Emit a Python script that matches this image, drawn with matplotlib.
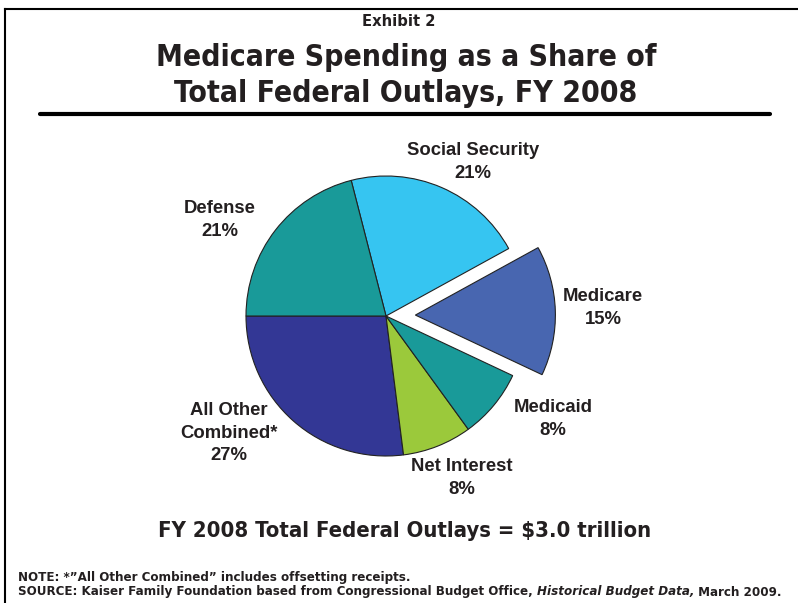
import matplotlib
matplotlib.use("Agg")
import matplotlib.pyplot as plt
from matplotlib import font_manager
from matplotlib.transforms import offset_copy

# slices, counter-clockwise starting at 9 o'clock
categories = ["All Other\nCombined*", "Net Interest", "Medicaid", "Medicare",
              "Social Security", "Defense"]
shares = [27, 8, 8, 15, 21, 21]
colors = ["#333795", "#9BC93B", "#199A99", "#4866B0", "#36C5F1", "#199A99"]
explode = [0, 0, 0, 0.21, 0, 0]

# label anchor points (pixels from top-left)
label_pos = [(229, 433), (462, 478), (553, 419), (603, 308), (473, 162), (220, 220)]

W, H = 798, 603
TXT = "#231F20"

has_cond = any(f.name == "DejaVu Sans" and f.stretch == "condensed" and f.weight in ("bold", 700)
               for f in font_manager.fontManager.ttflist)
cond = dict(family=["DejaVu Sans"], fontstretch="condensed" if has_cond else "normal")
cscale = 1.0 if has_cond else 0.86
label_font = ["Liberation Sans", "DejaVu Sans"]


def px(x, y):
    return x / W, 1 - y / H


fig = plt.figure(figsize=(W / 100, H / 100), dpi=100)

# frame on left and top
fig.add_artist(plt.Line2D([5 / W, 5 / W], [0, 1 - 9 / H], color="black", lw=1.5))
fig.add_artist(plt.Line2D([5 / W, 1], [1 - 9 / H, 1 - 9 / H], color="black", lw=1.5))

# titles
fig.text(*px(399, 22), "Exhibit 2", ha="center", va="center", fontsize=11.8 * cscale,
         fontweight="bold", color=TXT, **cond)
fig.text(*px(406, 58), "Medicare Spending as a Share of", ha="center", va="center",
         fontsize=21.6 * cscale, fontweight="bold", color=TXT, **cond)
fig.text(*px(406, 93), "Total Federal Outlays, FY 2008", ha="center", va="center",
         fontsize=21.6 * cscale, fontweight="bold", color=TXT, **cond)
fig.add_artist(plt.Line2D([40 / W, 770 / W], [1 - 114 / H, 1 - 114 / H], color="black",
                          lw=3, solid_capstyle="round"))

# pie: radius 1 in data = 140 px
R = 140
cx, cy = 386, 316
half = 1.6
ax = fig.add_axes([(cx - half * R) / W, (H - cy - half * R) / H, 2 * half * R / W, 2 * half * R / H])

ax.pie(shares, colors=colors, explode=explode, startangle=180, counterclock=True,
       radius=1, center=(0, 0), frame=True,
       wedgeprops=dict(edgecolor="#222222", linewidth=0.8))
ax.set_xlim(-half, half)
ax.set_ylim(-half, half)
ax.axis("off")

for name, v, (lx, ly) in zip(categories, shares, label_pos):
    fig.text(*px(lx, ly), f"{name}\n{v}%", ha="center", va="center", fontsize=13.3,
             fontweight="bold", family=label_font, color=TXT, linespacing=1.45)

fig.text(*px(405, 531), "FY 2008 Total Federal Outlays = $3.0 trillion", ha="center",
         va="center", fontsize=15.8 * cscale, fontweight="bold", color=TXT, **cond)

fs_note = 9.55 * cscale
fig.text(*px(18, 577), "NOTE: *\u201dAll Other Combined\u201d includes offsetting receipts.",
         ha="left", va="center", fontsize=fs_note, fontweight="bold", color=TXT, **cond)

# source line: plain / italic / plain pieces placed one after another
renderer = fig.canvas.get_renderer()
pieces = [("SOURCE: Kaiser Family Foundation based from Congressional Budget Office, ", "normal"),
          ("Historical Budget Data,", "italic"),
          (" March 2009.", "normal")]
trans = fig.transFigure
x0, y0 = px(18, 592)
for s, style in pieces:
    t = fig.text(x0, y0, s, ha="left", va="center", fontsize=fs_note, fontweight="bold",
                 fontstyle=style, color=TXT, transform=trans, **cond)
    bb = t.get_window_extent(renderer)
    trans = offset_copy(trans, fig=fig, x=bb.width, y=0, units="dots")

fig.savefig("out.png", dpi=100)
